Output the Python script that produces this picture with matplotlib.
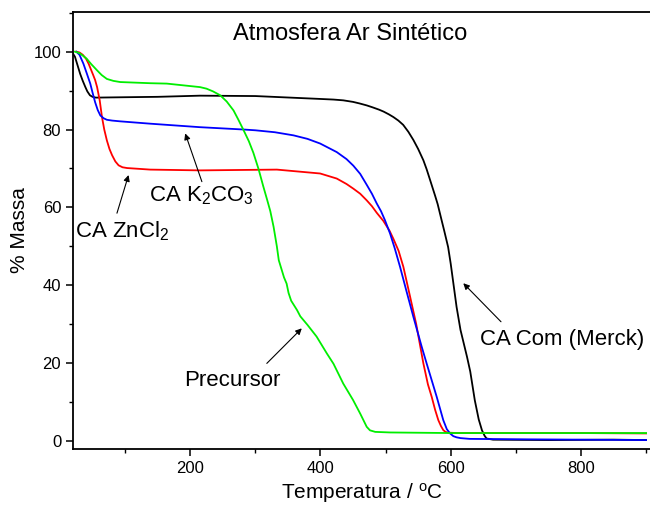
import matplotlib
matplotlib.use("Agg")
import matplotlib.pyplot as plt
from matplotlib.ticker import MultipleLocator

plt.rcParams["font.family"] = ["Liberation Sans", "DejaVu Sans"]
plt.rcParams["mathtext.fontset"] = "custom"
plt.rcParams["mathtext.rm"] = "Liberation Sans"
plt.rcParams["mathtext.it"] = "Liberation Sans:italic"

# TG curves, temperature (C) vs mass (%)
t_merck = [20, 23, 27, 31, 35, 39, 42, 46, 50, 55, 100, 150, 215, 300, 394, 420, 435,
           450, 460, 471, 480, 490, 497, 505, 512, 519.6, 527, 535, 542.7, 550, 558, 563,
           568, 576, 580, 586, 590, 596, 600, 609, 615, 625, 630, 637, 643, 648, 652,
           655, 665, 750, 850, 900]
m_merck = [99.5, 98.7, 96.5, 94.3, 92.5, 90.9, 89.8, 88.8, 88.4, 88.2, 88.3, 88.4, 88.7,
           88.6, 87.9, 87.7, 87.5, 87.1, 86.7, 86.2, 85.7, 85.1, 84.6, 83.9, 83.2, 82.3,
           81.2, 79.4, 77.3, 75.0, 72.1, 69.8, 67.2, 63.0, 60.8, 56.7, 54.0, 49.8, 45.5,
           34.4, 28.5, 21.6, 17.8, 10.4, 5.5, 2.7, 1.3, 0.6, 0.3, 0.2, 0.3, 0.2]

t_zncl2 = [25, 30, 35, 40, 44, 51, 54, 57, 61, 64.5, 68, 72, 76, 80, 85, 90, 96, 103,
           138.6, 215, 333, 399.5, 425, 440, 450.5, 461, 471, 479, 486.4, 496.6, 506,
           512, 520, 527.3, 537, 547, 558, 565, 570.8, 576, 581, 585, 588.6, 592, 596,
           610, 700, 800, 900]
m_zncl2 = [100, 99.8, 99.2, 98.2, 96.9, 94, 92.7, 90.9, 87.5, 83.2, 80.0, 77.2, 75.0,
           73.4, 71.8, 70.8, 70.3, 70.1, 69.7, 69.5, 69.7, 68.7, 67.4, 66.0, 64.8, 63.5,
           61.8, 60.3, 58.6, 56.5, 54.0, 51.9, 48.8, 44.7, 37.5, 30.0, 19.9, 14.5, 11.3,
           8.0, 5.3, 3.8, 2.75, 2.3, 2.1, 2.0, 2.0, 2.0, 1.9]

t_k2co3 = [25, 30, 36, 41, 46.5, 50, 54, 58, 62, 67, 72, 80, 92.5, 138.6, 215, 282, 300,
           330, 358.6, 380, 399.5, 425, 440, 450.5, 461, 471, 479, 486.4, 493, 499,
           506.8, 514, 522.2, 532, 542.6, 555.4, 563, 578.5, 588.6, 594, 599, 604, 609,
           615, 629, 700, 800, 900]
m_k2co3 = [100, 99.2, 96.9, 94.5, 91.8, 89.5, 87.0, 85.0, 83.6, 82.9, 82.5, 82.3, 82.1,
           81.5, 80.6, 80.0, 79.8, 79.3, 78.5, 77.6, 76.4, 74.2, 72.4, 70.7, 68.6, 65.8,
           63.5, 61.0, 59.0, 56.7, 53.3, 49.5, 44.7, 38.5, 31.9, 24.2, 19.9, 11.3, 5.3,
           3.0, 1.9, 1.2, 0.9, 0.7, 0.5, 0.4, 0.3, 0.2]

t_prec = [23, 27, 30, 35, 41, 48, 57, 64, 72, 82, 92.5, 138.6, 164, 215, 225, 235, 246,
          256, 266.5, 274, 282, 290, 297, 305, 312, 318, 323, 328, 333, 336, 340, 344,
          348, 351, 355, 364, 369, 380, 394, 410, 420, 435, 450, 461, 466, 471, 476, 484,
          507, 600, 700, 800, 900]
m_prec = [100, 99.8, 99.6, 99.0, 98.2, 96.8, 95.2, 94.0, 93.0, 92.5, 92.2, 91.9, 91.8,
          90.9, 90.5, 89.8, 88.8, 87.2, 84.9, 82.5, 79.8, 77.0, 74.0, 69.8, 65.5, 62.0,
          59.0, 55.0, 50.0, 46.4, 44.2, 42.0, 40.4, 38.0, 36.0, 33.6, 32.0, 29.8, 26.8,
          22.4, 19.8, 14.7, 10.5, 7.0, 5.3, 3.6, 2.7, 2.3, 2.15, 2.0, 2.0, 2.0, 2.0]

fig = plt.figure(figsize=(6.5, 5.09), dpi=100)
ax = fig.add_axes([73 / 650, 1 - 449 / 509, 577 / 650, 437 / 509])

ax.plot(t_merck, m_merck, color="black", lw=1.3)
ax.plot(t_zncl2, m_zncl2, color="red", lw=1.3)
ax.plot(t_k2co3, m_k2co3, color="blue", lw=1.3)
ax.plot(t_prec, m_prec, color="#00ee00", lw=1.3)

ax.set_xlim(20, 906)
ax.set_ylim(-2.1, 110.2)
ax.xaxis.set_major_locator(MultipleLocator(200))
ax.xaxis.set_minor_locator(MultipleLocator(100))
ax.yaxis.set_major_locator(MultipleLocator(20))
ax.yaxis.set_minor_locator(MultipleLocator(10))
ax.tick_params(which="major", direction="out", length=5, width=1.1, labelsize=12)
ax.tick_params(which="minor", direction="out", length=3, width=1.0)
ax.spines["right"].set_visible(False)
for s in ("left", "bottom", "top"):
    ax.spines[s].set_linewidth(1.3)

ax.set_xlabel("Temperatura / $^{\\mathrm{o}}$C", fontsize=15, labelpad=4)
ax.set_ylabel("% Massa", fontsize=15, labelpad=3)

ax.text(445, 103, "Atmosfera Ar Sintético", fontsize=17, ha="center", va="baseline")

arrow = dict(arrowstyle="-|>", color="black", lw=0.8, mutation_scale=9, shrinkA=0, shrinkB=0)
ax.text(95, 52.4, "CA ZnCl$_2$", fontsize=16, ha="center", va="baseline")
ax.annotate("", xy=(105.3, 68.3), xytext=(87.5, 58.5), arrowprops=arrow)
ax.text(218, 61.4, "CA K$_2$CO$_3$", fontsize=16, ha="center", va="baseline")
ax.annotate("", xy=(192.3, 79.0), xytext=(217.9, 66.6), arrowprops=arrow)
ax.text(264, 14.1, "Precursor", fontsize=16, ha="center", va="baseline")
ax.annotate("", xy=(371.3, 28.9), xytext=(317.6, 19.9), arrowprops=arrow)
ax.text(771, 24.6, "CA Com (Merck)", fontsize=16, ha="center", va="baseline")
ax.annotate("", xy=(619.3, 40.5), xytext=(677.2, 30.6), arrowprops=arrow)

fig.savefig("out.png", dpi=100)
